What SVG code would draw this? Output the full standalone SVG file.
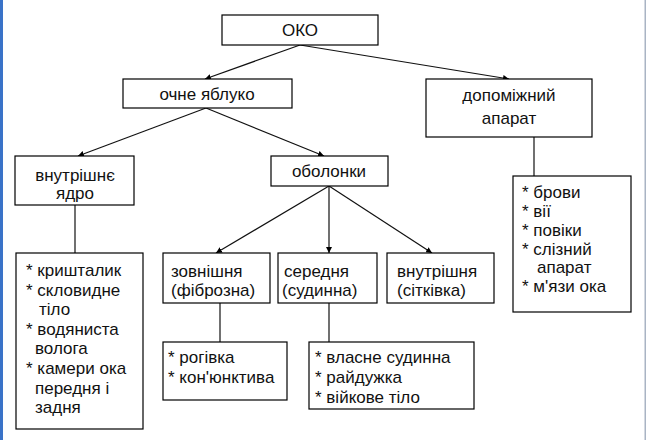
<svg xmlns="http://www.w3.org/2000/svg" width="648" height="440" viewBox="0 0 648 440">
<defs>
<marker id="ah" viewBox="0 0 10 10" refX="10" refY="5" markerWidth="6" markerHeight="6" markerUnits="userSpaceOnUse" orient="auto">
<path d="M0,0 L10,5 L0,10 z" fill="#000"/>
</marker>
<style>
.box{fill:#fff;stroke:#000;stroke-width:1.2}
text{font-family:"Liberation Sans",Arial,sans-serif;font-size:17px;fill:#111}
.c{text-anchor:middle}
.ln{stroke:#111;stroke-width:1.2;fill:none}
.ar{marker-end:url(#ah)}
</style>
</defs>
<rect x="0" y="0" width="648" height="440" fill="#fff"/>
<rect x="0" y="0" width="3" height="440" fill="#3a73c8"/>
<rect x="644.5" y="0" width="1.5" height="440" fill="#a9b4c4"/>
<g id="connectors">
<line class="ln ar" x1="300" y1="45" x2="205" y2="79"/>
<line class="ln ar" x1="300" y1="45" x2="509" y2="79"/>
<line class="ln ar" x1="206" y1="108" x2="78" y2="156"/>
<line class="ln ar" x1="206" y1="108" x2="324" y2="156"/>
<line class="ln" x1="534" y1="137" x2="534" y2="176"/>
<line class="ln" x1="75" y1="205" x2="75" y2="253"/>
<line class="ln ar" x1="329" y1="186" x2="216" y2="253"/>
<line class="ln ar" x1="329" y1="186" x2="329" y2="253"/>
<line class="ln ar" x1="329" y1="186" x2="432" y2="253"/>
<line class="ln" x1="220" y1="303" x2="220" y2="342"/>
<line class="ln" x1="329" y1="303" x2="329" y2="342"/>
</g>
<g id="oko">
<rect class="box" x="222" y="15" width="156" height="30"/>
<text class="c" x="300" y="36">ОКО</text>
</g>
<g id="ochne">
<rect class="box" x="123" y="79" width="169" height="29"/>
<text class="c" x="207" y="100">очне яблуко</text>
</g>
<g id="dopomizhnyi">
<rect class="box" x="426" y="79" width="166" height="58"/>
<text class="c" x="509" y="101">допоміжний</text>
<text class="c" x="509" y="124">апарат</text>
</g>
<g id="yadro">
<rect class="box" x="15" y="156" width="119" height="49"/>
<text class="c" x="75" y="181">внутрішнє</text>
<text class="c" x="75" y="199">ядро</text>
</g>
<g id="obolonky">
<rect class="box" x="271" y="156" width="117" height="30"/>
<text class="c" x="329" y="177">оболонки</text>
</g>
<g id="zovnishnia">
<rect class="box" x="163" y="253" width="107" height="50"/>
<text x="171" y="277">зовнішня</text>
<text x="171" y="296">(фіброзна)</text>
</g>
<g id="seredniа">
<rect class="box" x="278" y="253" width="99" height="50"/>
<text x="284" y="277">середня</text>
<text x="282" y="296">(судинна)</text>
</g>
<g id="vnutrishnia">
<rect class="box" x="387" y="253" width="107" height="50"/>
<text x="397" y="277">внутрішня</text>
<text x="397" y="296">(сітківка)</text>
</g>
<g id="yadro-list">
<rect class="box" x="16" y="253" width="127" height="176"/>
<text x="26" y="276">* кришталик</text>
<text x="26" y="296">* скловидне</text>
<text x="39" y="315">тіло</text>
<text x="26" y="335">* водяниста</text>
<text x="35" y="354">волога</text>
<text x="26" y="374">* камери ока</text>
<text x="35" y="394">передня і</text>
<text x="35" y="413">задня</text>
</g>
<g id="zovn-list">
<rect class="box" x="163" y="342" width="124" height="58"/>
<text x="168" y="363">* рогівка</text>
<text x="168" y="383">* кон'юнктива</text>
</g>
<g id="sered-list">
<rect class="box" x="309" y="342" width="165" height="67"/>
<text x="315" y="363">* власне судинна</text>
<text x="315" y="383">* райдужка</text>
<text x="315" y="403">* війкове тіло</text>
</g>
<g id="dop-list">
<rect class="box" x="513" y="176" width="118" height="136"/>
<text x="522" y="198">* брови</text>
<text x="522" y="217">* вії</text>
<text x="522" y="236">* повіки</text>
<text x="522" y="255">* слізний</text>
<text x="537" y="273">апарат</text>
<text x="522" y="292">* м'язи ока</text>
</g>
</svg>
